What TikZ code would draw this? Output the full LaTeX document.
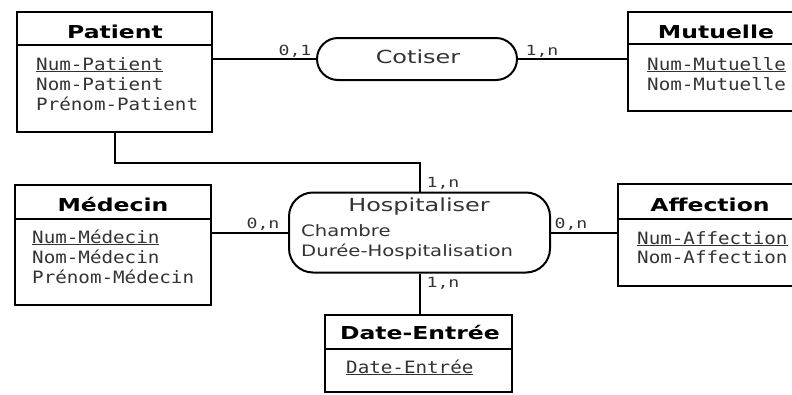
\documentclass[tikz,border=0pt]{standalone}
\usepackage{fontspec}
\setmainfont{DejaVu Sans}
\newfontfamily\titlefont{DejaVu Sans}[FakeStretch=1.32]
\newfontfamily\attrfont{DejaVu Sans Mono}[FakeStretch=1.13]
\newfontfamily\cardfont{DejaVu Sans Mono}[FakeStretch=1.3]
\newfontfamily\relfont{DejaVu Sans}[FakeStretch=1.33]
\newfontfamily\relattrfont{DejaVu Sans}[FakeStretch=1.25]
\usetikzlibrary{calc}
\definecolor{txt}{gray}{0.2}
\tikzset{
  ent/.style={draw=black, line width=2pt, rectangle, inner sep=0pt},
  rel/.style={draw=black, line width=2pt, rectangle, inner sep=0pt},
  conn/.style={draw=black, line width=2pt},
  divider/.style={draw=black, line width=2pt},
  etitle/.style={anchor=base, inner sep=0pt, text=black, font=\titlefont\bfseries\fontsize{17.8}{20}\selectfont},
  attr/.style={anchor=base west, inner sep=0pt, text=txt, font=\attrfont\fontsize{17}{20}\selectfont},
  card/.style={anchor=base, inner sep=0pt, text=txt, font=\cardfont\fontsize{14}{16}\selectfont},
  rtitle/.style={anchor=base, inner sep=0pt, text=txt, font=\relfont\fontsize{18}{21}\selectfont},
  rattr/.style={anchor=base west, inner sep=0pt, text=txt, font=\relattrfont\fontsize{15.7}{19}\selectfont},
}
\begin{document}
\begin{tikzpicture}[x=1pt, y=-1pt]
\useasboundingbox (0,0) rectangle (792,394);
\clip (0,0) rectangle (792,394);

% entities
\node[ent, minimum width=195pt, minimum height=120pt] (patient) at (114.5,72) {};
\node[ent, minimum width=182pt, minimum height=99pt] (mutuelle) at (719,61.5) {};
\node[ent, minimum width=196pt, minimum height=120pt] (medecin) at (113,245) {};
\node[ent, minimum width=192pt, minimum height=102pt] (affection) at (714,235) {};
\node[ent, minimum width=187pt, minimum height=77pt] (date) at (418.5,353.5) {};

% relations
\node[rel, rounded corners=21pt, minimum width=200pt, minimum height=42pt] (cotiser) at (417,59) {};
\node[rel, rounded corners=24pt, minimum width=261pt, minimum height=80pt] (hosp) at (419.5,232.5) {};

% dividers
\draw[divider] ($(patient.north west)+(0,34)$) -- ($(patient.north east)+(0,34)$);
\draw[divider] ($(mutuelle.north west)+(0,33)$) -- ($(mutuelle.north east)+(0,33)$);
\draw[divider] ($(medecin.north west)+(0,35)$) -- ($(medecin.north east)+(0,35)$);
\draw[divider] ($(affection.north west)+(0,36)$) -- ($(affection.north east)+(0,36)$);
\draw[divider] ($(date.north west)+(0,35)$) -- ($(date.north east)+(0,35)$);

% entity titles
\node[etitle] (tpatient) at (115,38.5) {Patient};
\node[etitle] (tmutuelle) at (716,38.5) {Mutuelle};
\node[etitle] (tmedecin) at (113,211.5) {Médecin};
\node[etitle] (taffection) at (710,211.5) {Affection};
\node[etitle] (tdate) at (420,339.5) {Date-Entrée};

% attributes
\node[attr] (a1) at (36,70) {\underline{Num-Patient}};
\node[attr] (a2) at (36,90) {Nom-Patient};
\node[attr] (a3) at (36,110) {Prénom-Patient};
\node[attr] (a4) at (647,70) {\underline{Num-Mutuelle}};
\node[attr] (a5) at (647,90) {Nom-Mutuelle};
\node[attr] (a6) at (32,243) {\underline{Num-Médecin}};
\node[attr] (a7) at (32,263) {Nom-Médecin};
\node[attr] (a8) at (32,283) {Prénom-Médecin};
\node[attr] (a9) at (637,244) {\underline{Num-Affection}};
\node[attr] (a10) at (637,263) {Nom-Affection};
\node[attr] (a11) at (346,373) {\underline{Date-Entrée}};

% relation texts
\node[rtitle] (tcot) at (418,63.5) {Cotiser};
\node[rtitle] (thosp) at (419,211.5) {Hospitaliser};
\node[rattr] (h1) at (301,236.7) {Chambre};
\node[rattr] (h2) at (301,256.7) {Durée-Hospitalisation};

% connectors
\draw[conn] (patient.east |- cotiser.west) -- (cotiser.west);
\draw[conn] (cotiser.east) -- (cotiser.east -| mutuelle.west);
\coordinate (pbend) at (115,162.5);
\draw[conn] (patient.south -| pbend) -- (pbend) -- (pbend -| hosp.north) -- (hosp.north);
\draw[conn] (medecin.east |- hosp.west) -- (hosp.west);
\draw[conn] (hosp.east) -- (hosp.east -| affection.west);
\draw[conn] (hosp.south) -- (hosp.south |- date.north);

% cardinalities
\node[card] (c1) at (295,55) {0,1};
\node[card] (c2) at (542,55) {1,n};
\node[card] (c3) at (443,187) {1,n};
\node[card] (c4) at (263,228) {0,n};
\node[card] (c5) at (571,228) {0,n};
\node[card] (c6) at (443,287) {1,n};
\end{tikzpicture}
\end{document}
